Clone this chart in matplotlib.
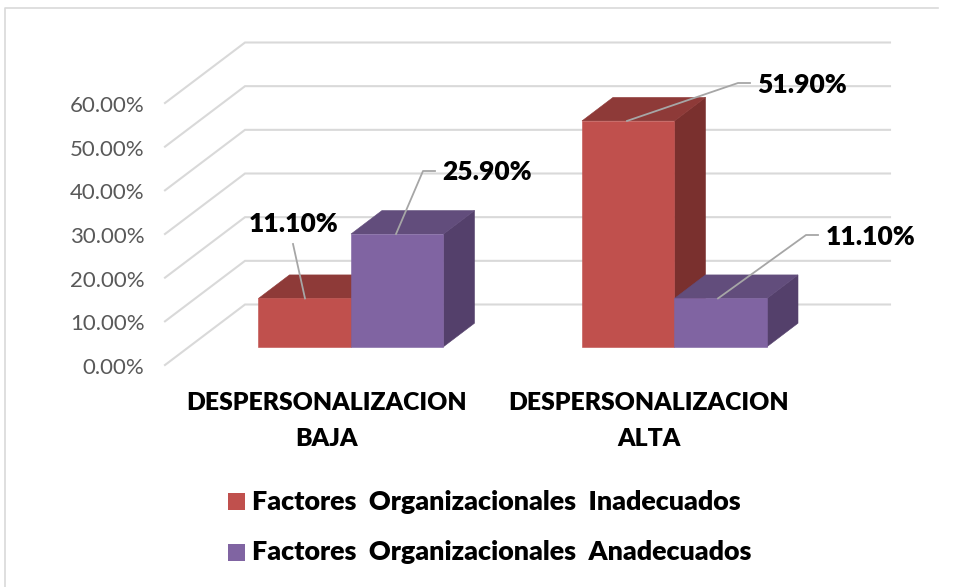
import matplotlib
matplotlib.use('Agg')
import matplotlib.pyplot as plt
from matplotlib.patches import Polygon, Rectangle

categories = ['DESPERSONALIZACION\nBAJA', 'DESPERSONALIZACION\nALTA']
series_names = ['Factores  Organizacionales  Inadecuados',
                'Factores  Organizacionales  Anadecuados']
inadecuados = [11.1, 51.9]
anadecuados = [25.9, 11.1]
ticks = [0, 10, 20, 30, 40, 50, 60]

PX_PER_UNIT = 4.35
BASE_PX = 346.7


def py(value):
    return BASE_PX - value * PX_PER_UNIT


def to_val(pixel_y):
    return (BASE_PX - pixel_y) / PX_PER_UNIT


def box(ax, x0, x1, value, front, top, side):
    dx = 31
    dv = 23.5 / PX_PER_UNIT
    # thin edge in the face colour closes the seams between the faces
    ax.add_patch(Polygon([(x1, 0), (x1 + dx, dv), (x1 + dx, value + dv), (x1, value)],
                         facecolor=side, edgecolor=side, lw=0.4, zorder=3))
    ax.add_patch(Polygon([(x0, value), (x0 + dx, value + dv), (x1 + dx, value + dv), (x1, value)],
                         facecolor=top, edgecolor=top, lw=0.4, zorder=3))
    ax.add_patch(Rectangle((x0, 0), x1 - x0, value, facecolor=front, edgecolor=front, lw=0.4, zorder=3))


def main():
    plt.rcParams['font.family'] = ['Lato', 'DejaVu Sans']
    fig = plt.figure(figsize=(9.58, 5.87), dpi=100)
    ax = fig.add_axes([0, 0, 1, 1])
    ax.set_xlim(0, 958)
    ax.set_ylim(to_val(587), to_val(0))
    ax.axis('off')

    # outer border of the chart area
    ax.plot([5, 5, 938], [to_val(587), to_val(8), to_val(8)], color='#D9D9D9', lw=1.2)

    # gridlines: 10 units on the axis are 43.67 px, a little more than on the bars
    step = (365 - 103) / 60 / PX_PER_UNIT
    for t in ticks:
        front = to_val(365) + t * step
        wall = to_val(304.5) + t * step
        ax.plot([165, 245, 890], [front, wall, wall], color='#D9D9D9', lw=1.5,
                solid_joinstyle='miter', zorder=1)
        ax.text(144.5, front - 3 / PX_PER_UNIT, f'{t:.2f}%', ha='right', va='center', fontsize=16,
                color='#595959')

    red = ('#C0504D', '#8E3A38', '#7A302E')
    purple = ('#8064A2', '#624D7C', '#54406B')
    centers = [351, 674.5]
    width = 92.5
    for c, a, b in zip(centers, inadecuados, anadecuados):
        box(ax, c - width, c, a, *red)
        box(ax, c, c + width, b, *purple)

    # leader lines and value labels
    labels = [
        (inadecuados[0], [(305, py(inadecuados[0])), (293, 244)], (294, 224)),
        (anadecuados[0], [(396, py(anadecuados[0])), (423, 171), (435, 171)], (487, 172)),
        (inadecuados[1], [(627, py(inadecuados[1])), (738, 83), (750, 83)], (802.5, 85)),
        (anadecuados[1], [(718, py(anadecuados[1])), (806, 235), (818, 235)], (871, 237)),
    ]
    for value, leader, pos in labels:
        xs = [p[0] for p in leader]
        ys = [to_val(p[1]) for p in leader]
        ax.plot(xs, ys, color='#A6A6A6', lw=1.3, zorder=4)
        ax.text(pos[0], to_val(pos[1]), f'{value:.2f}%', ha='center', va='center',
                fontsize=19, fontweight='heavy', color='black', zorder=5)

    # category labels
    for x, cat in zip([327, 649], categories):
        ax.text(x, to_val(421), cat, ha='center', va='center', fontsize=17.8, fontweight='heavy',
                color='black', linespacing=1.8)

    # legend
    for name, color, y in zip(series_names, [red[0], purple[0]], [501.5, 552.5]):
        ax.add_patch(Rectangle((228, to_val(y + 8.5)), 17, 17 / PX_PER_UNIT, color=color, lw=0))
        ax.text(252, to_val(y), name, ha='left', va='center', fontsize=19.4, fontweight='heavy',
                color='black')

    fig.savefig('out.png', dpi=100)


if __name__ == '__main__':
    main()
